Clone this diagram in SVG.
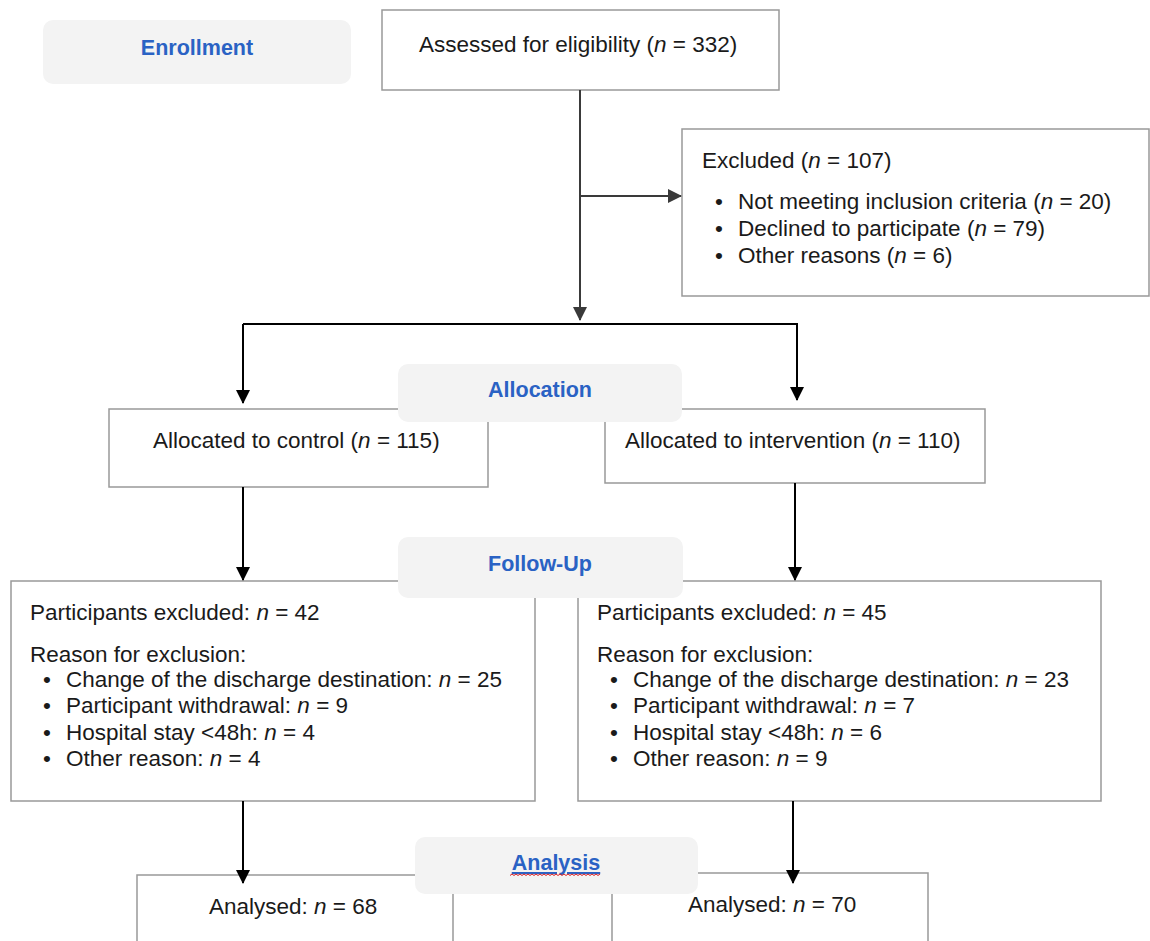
<svg xmlns="http://www.w3.org/2000/svg" width="1150" height="941" viewBox="0 0 1150 941">
<defs>
<style>
.box{fill:#fff;stroke:#999;stroke-width:1.5}
.lab{fill:#f3f3f3;stroke:none}
.t{font-family:"Liberation Sans",Arial,sans-serif;font-size:22.5px;fill:#1a1a1a}
.h{font-family:"Liberation Sans",Arial,sans-serif;font-size:21.5px;font-weight:bold;fill:#2a62c4;text-anchor:middle}
.i{font-style:italic}
.c1{stroke:#3a3a3a;stroke-width:2;fill:none}
.c2{stroke:#000;stroke-width:2;fill:none}
</style>
<marker id="a1" markerUnits="userSpaceOnUse" markerWidth="14" markerHeight="14" refX="13" refY="7" orient="auto"><path d="M0,0 L14,7 L0,14 Z" fill="#3a3a3a"/></marker>
<marker id="a2" markerUnits="userSpaceOnUse" markerWidth="14" markerHeight="14" refX="13" refY="7" orient="auto"><path d="M0,0 L14,7 L0,14 Z" fill="#000"/></marker>
</defs>
<rect width="1150" height="941" fill="#fff"/>

<g id="enrollment">
<rect class="lab" x="43" y="20" width="308" height="64" rx="10"/>
<text class="h" x="197" y="55">Enrollment</text>
</g>

<g id="assessed">
<rect class="box" x="382" y="10" width="397" height="80"/>
<text class="t" x="419" y="52">Assessed for eligibility (<tspan class="i">n</tspan> = 332)</text>
</g>

<g id="excluded">
<rect class="box" x="682" y="129" width="467" height="167"/>
<text class="t" x="702" y="168">Excluded (<tspan class="i">n</tspan> = 107)</text>
<text class="t" x="715" y="209">•</text>
<text class="t" x="738" y="209">Not meeting inclusion criteria (<tspan class="i">n</tspan> = 20)</text>
<text class="t" x="715" y="236">•</text>
<text class="t" x="738" y="236">Declined to participate (<tspan class="i">n</tspan> = 79)</text>
<text class="t" x="715" y="263">•</text>
<text class="t" x="738" y="263">Other reasons (<tspan class="i">n</tspan> = 6)</text>
</g>

<g id="control">
<rect class="box" x="109" y="409" width="379" height="78"/>
<text class="t" x="153" y="448">Allocated to control (<tspan class="i">n</tspan> = 115)</text>
</g>

<g id="intervention">
<rect class="box" x="605" y="409" width="380" height="74"/>
<text class="t" x="625" y="448">Allocated to intervention (<tspan class="i">n</tspan> = 110)</text>
</g>

<g id="allocation">
<rect class="lab" x="398" y="364" width="284" height="58" rx="10"/>
<text class="h" x="540" y="397">Allocation</text>
</g>

<g id="followLeft">
<rect class="box" x="11" y="581" width="524" height="220"/>
<text class="t" x="30" y="620">Participants excluded: <tspan class="i">n</tspan> = 42</text>
<text class="t" x="30" y="662">Reason for exclusion:</text>
<text class="t" x="43" y="687">•</text>
<text class="t" x="66" y="687">Change of the discharge destination: <tspan class="i">n</tspan> = 25</text>
<text class="t" x="43" y="713">•</text>
<text class="t" x="66" y="713">Participant withdrawal: <tspan class="i">n</tspan> = 9</text>
<text class="t" x="43" y="740">•</text>
<text class="t" x="66" y="740">Hospital stay &lt;48h: <tspan class="i">n</tspan> = 4</text>
<text class="t" x="43" y="766">•</text>
<text class="t" x="66" y="766">Other reason: <tspan class="i">n</tspan> = 4</text>
</g>

<g id="followRight">
<rect class="box" x="578" y="581" width="523" height="220"/>
<text class="t" x="597" y="620">Participants excluded: <tspan class="i">n</tspan> = 45</text>
<text class="t" x="597" y="662">Reason for exclusion:</text>
<text class="t" x="610" y="687">•</text>
<text class="t" x="633" y="687">Change of the discharge destination: <tspan class="i">n</tspan> = 23</text>
<text class="t" x="610" y="713">•</text>
<text class="t" x="633" y="713">Participant withdrawal: <tspan class="i">n</tspan> = 7</text>
<text class="t" x="610" y="740">•</text>
<text class="t" x="633" y="740">Hospital stay &lt;48h: <tspan class="i">n</tspan> = 6</text>
<text class="t" x="610" y="766">•</text>
<text class="t" x="633" y="766">Other reason: <tspan class="i">n</tspan> = 9</text>
</g>

<g id="followup">
<rect class="lab" x="398" y="537" width="285" height="61" rx="10"/>
<text class="h" x="540" y="571">Follow-Up</text>
</g>

<g id="analysedLeft">
<rect class="box" x="137" y="875" width="316" height="80"/>
<text class="t" x="209" y="914">Analysed: <tspan class="i">n</tspan> = 68</text>
</g>

<g id="analysedRight">
<rect class="box" x="612" y="873" width="316" height="80"/>
<text class="t" x="688" y="912">Analysed: <tspan class="i">n</tspan> = 70</text>
</g>

<g id="analysis">
<rect class="lab" x="415" y="837" width="283" height="57" rx="10"/>
<text class="h" x="556" y="870" text-decoration="underline">Analysis</text>
<path d="M510,875.5 l2,-1.5 l2,1.5 l2,-1.5 l2,1.5 l2,-1.5 l2,1.5 l2,-1.5 l2,1.5 l2,-1.5 l2,1.5 l2,-1.5 l2,1.5 l2,-1.5 l2,1.5 l2,-1.5 l2,1.5 l2,-1.5 l2,1.5 l2,-1.5 l2,1.5 l2,-1.5 l2,1.5 l2,-1.5 l2,1.5 l2,-1.5 l2,1.5 l2,-1.5 l2,1.5 l2,-1.5 l2,1.5 l2,-1.5 l2,1.5 l2,-1.5 l2,1.5 l2,-1.5 l2,1.5 l2,-1.5 l2,1.5 l2,-1.5 l2,1.5 l2,-1.5 l2,1.5 l2,-1.5 l2,1.5 l2,-1.5" fill="none" stroke="#e02020" stroke-width="1"/>
</g>

<g id="connectors">
<path class="c1" d="M580,90 V320" marker-end="url(#a1)"/>
<path class="c1" d="M580,196 H681" marker-end="url(#a1)"/>
<path class="c2" d="M243,324 H797 V400" marker-end="url(#a2)"/>
<path class="c2" d="M243,324 V403" marker-end="url(#a2)"/>
<path class="c2" d="M243,487 V580" marker-end="url(#a2)"/>
<path class="c2" d="M795,483 V580" marker-end="url(#a2)"/>
<path class="c2" d="M243,801 V883" marker-end="url(#a2)"/>
<path class="c2" d="M793,801 V883" marker-end="url(#a2)"/>
</g>
</svg>
